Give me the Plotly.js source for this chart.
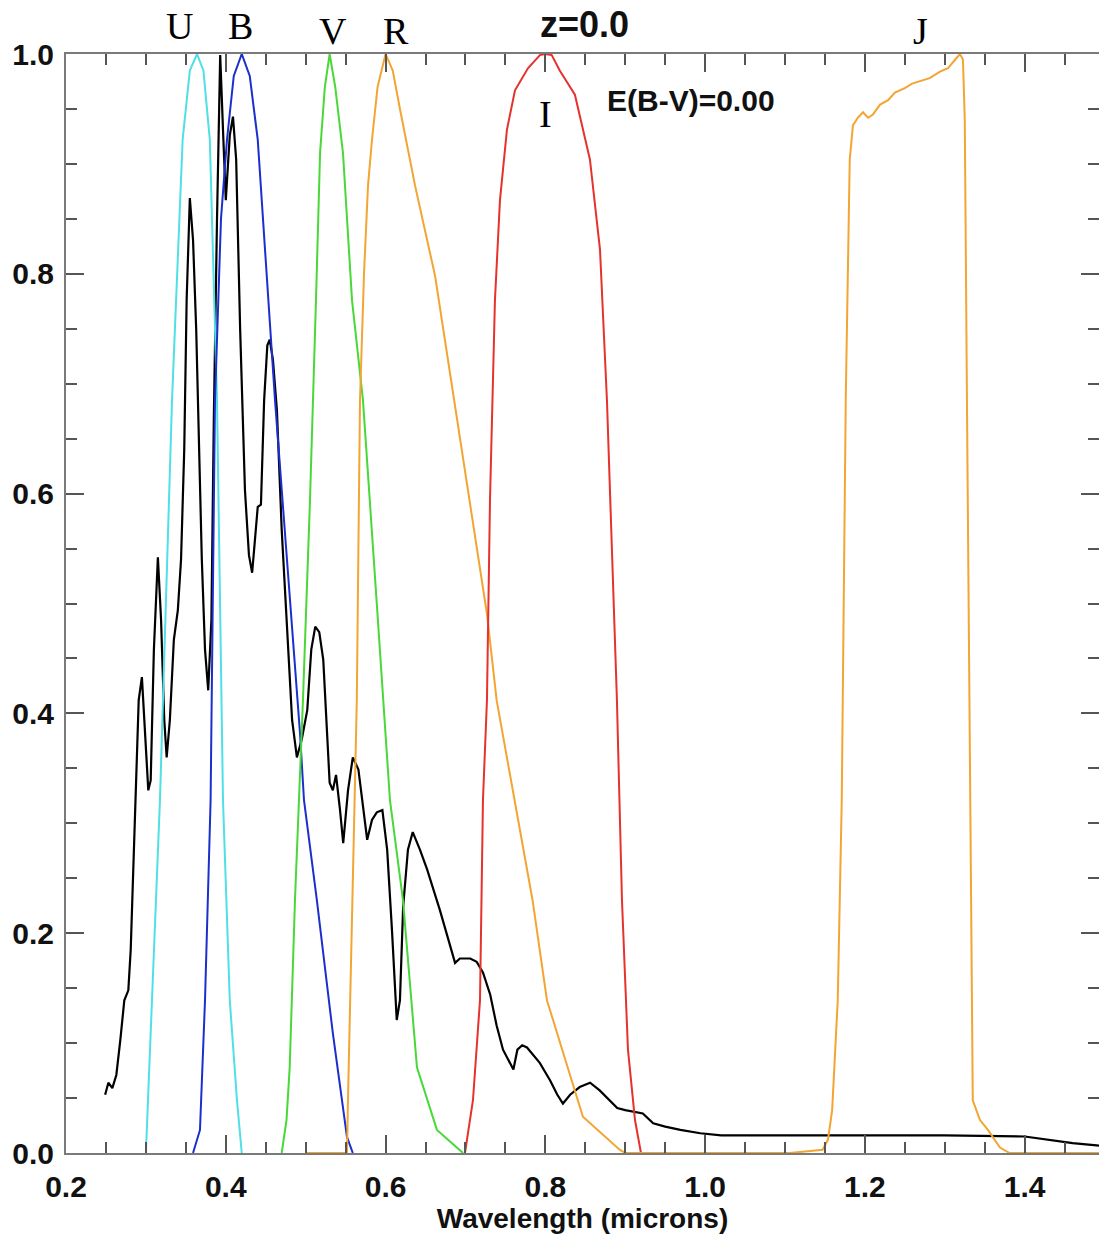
<!DOCTYPE html>
<html>
<head>
<meta charset="utf-8">
<script src="https://cdn.plot.ly/plotly-3.0.1.min.js"></script>
<style>
  html, body { margin: 0; padding: 0; background: #ffffff; }
  #chart { width: 1099px; height: 1235px; }
</style>
</head>
<body>
<div id="chart"></div>
<script>
// Galaxy spectrum (normalised flux) vs wavelength (microns)
const specWave = [0.249,0.253,0.258,0.263,0.268,0.273,0.278,0.281,0.285,0.289,
  0.291,0.295,0.299,0.303,0.306,0.310,0.315,0.319,0.323,0.326,
  0.330,0.335,0.340,0.344,0.348,0.351,0.355,0.359,0.363,0.367,
  0.370,0.374,0.378,0.382,0.385,0.389,0.393,0.397,0.400,0.405,
  0.409,0.413,0.418,0.424,0.429,0.433,0.437,0.440,0.444,0.448,
  0.452,0.455,0.459,0.464,0.470,0.477,0.483,0.489,0.495,0.502,
  0.507,0.512,0.517,0.522,0.527,0.530,0.534,0.538,0.543,0.547,
  0.553,0.559,0.566,0.572,0.577,0.583,0.589,0.596,0.602,0.608,
  0.614,0.618,0.622,0.628,0.634,0.643,0.652,0.668,0.681,0.687,
  0.693,0.706,0.714,0.722,0.731,0.739,0.747,0.753,0.760,0.765,
  0.771,0.777,0.785,0.793,0.806,0.815,0.822,0.831,0.843,0.856,
  0.868,0.881,0.890,0.900,0.912,0.922,0.935,0.950,0.969,0.994,
  1.02,1.1,1.2,1.3,1.4,1.43,1.46,1.49,1.5];
const specFlux = [0.053,0.064,0.059,0.071,0.103,0.139,0.148,0.185,0.276,0.358,
  0.412,0.433,0.376,0.330,0.339,0.458,0.542,0.485,0.394,0.360,
  0.394,0.467,0.494,0.540,0.640,0.776,0.869,0.831,0.749,0.640,
  0.540,0.458,0.421,0.485,0.667,0.849,0.999,0.922,0.867,0.926,
  0.943,0.904,0.749,0.603,0.544,0.528,0.567,0.588,0.590,0.685,
  0.735,0.740,0.722,0.676,0.567,0.473,0.394,0.360,0.376,0.403,
  0.458,0.479,0.474,0.449,0.385,0.337,0.330,0.344,0.312,0.282,
  0.330,0.360,0.349,0.312,0.285,0.303,0.310,0.312,0.276,0.203,
  0.121,0.139,0.224,0.276,0.292,0.276,0.258,0.221,0.189,0.173,
  0.177,0.177,0.174,0.164,0.144,0.116,0.094,0.085,0.076,0.094,
  0.098,0.096,0.089,0.082,0.066,0.053,0.045,0.053,0.060,0.064,
  0.057,0.048,0.041,0.039,0.037,0.036,0.027,0.024,0.021,0.018,
  0.016,0.016,0.016,0.016,0.015,0.012,0.009,0.007,0.006];

// Filter transmission curves
const uWave = [0.300,0.3026,0.3076,0.3176,0.3327,0.346,0.355,0.364,0.372,0.380,0.389,0.3965,0.405,0.414,0.420];
const uTrans = [0,0.048,0.139,0.321,0.685,0.922,0.985,1.0,0.985,0.922,0.685,0.321,0.139,0.048,0];

const bWave = [0.359,0.3677,0.374,0.381,0.3865,0.394,0.4015,0.410,0.420,0.430,0.440,0.450,0.4616,0.4929,0.4979,0.514,0.534,0.5517,0.559];
const bTrans = [0,0.021,0.139,0.321,0.685,0.85,0.922,0.98,1.0,0.98,0.922,0.81,0.685,0.382,0.321,0.230,0.109,0.0146,0];

const vWave = [0.470,0.476,0.480,0.4866,0.4966,0.5054,0.5129,0.518,0.524,0.530,0.537,0.5467,0.558,0.5717,0.589,0.6055,0.6218,0.6393,0.6643,0.697];
const vTrans = [0,0.03,0.078,0.230,0.412,0.594,0.776,0.91,0.97,1.0,0.97,0.91,0.776,0.685,0.5,0.321,0.230,0.078,0.021,0];

const rWave = [0.500,0.550,0.5517,0.553,0.556,0.560,0.564,0.566,0.568,0.573,0.578,0.583,0.590,0.600,0.609,0.618,0.637,0.662,0.695,0.727,0.739,0.784,0.802,0.847,0.893,0.900];
const rTrans = [0,0,0,0.05,0.15,0.28,0.412,0.55,0.685,0.8,0.88,0.922,0.97,1.0,0.985,0.95,0.88,0.798,0.64,0.49,0.412,0.23,0.139,0.033,0.003,0];

const iWave = [0.6994,0.7019,0.7094,0.7182,0.7219,0.7269,0.7307,0.7369,0.7432,0.7519,0.7620,0.7782,0.7932,0.7995,0.808,0.818,0.837,0.8558,0.8684,0.8771,0.8834,0.8896,0.8959,0.9034,0.9122,0.9197];
const iTrans = [0,0.012,0.048,0.139,0.321,0.412,0.594,0.776,0.867,0.931,0.967,0.987,0.999,1.0,0.999,0.985,0.963,0.904,0.822,0.685,0.549,0.412,0.230,0.094,0.030,0];

const jWave = [0.900,1.106,1.147,1.1537,1.159,1.166,1.171,1.176,1.181,1.185,1.191,1.1975,1.204,1.21,1.219,1.229,1.2375,1.25,1.259,1.269,1.281,1.294,1.304,1.313,1.319,1.3227,1.325,1.3277,1.3315,1.335,1.344,1.354,1.369,1.381,1.5];
const jTrans = [0,0,0.003,0.012,0.039,0.139,0.321,0.685,0.904,0.935,0.942,0.947,0.942,0.945,0.954,0.958,0.965,0.969,0.973,0.975,0.978,0.984,0.987,0.995,1.0,0.995,0.94,0.685,0.321,0.048,0.030,0.021,0.005,0,0];

// Labels
const filterNames = ['U','B','V','R','I','J'];
const filterLabelX = [0.342,0.418,0.534,0.613,0.8006,1.269];
const filterLabelY = [1.0255,1.0255,1.021,1.021,0.9454,1.021];
const titleText = 'z=0.0';
const ebvText = 'E(B-V)=0.00';
const xTitle = 'Wavelength (microns)';

const colors = {spec:'#000000', U:'#4fdfe6', B:'#1b2fcc', V:'#48d838', R:'#f2a533', I:'#e5322d', J:'#f2a533'};

function line(x, y, color, w) {
  return {x: x, y: y, type: 'scatter', mode: 'lines', line: {color: color, width: w || 2}, hoverinfo: 'skip'};
}

const traces = [
  line(specWave, specFlux, colors.spec, 2.2),
  line(uWave, uTrans, colors.U),
  line(bWave, bTrans, colors.B),
  line(vWave, vTrans, colors.V),
  line(rWave, rTrans, colors.R),
  line(iWave, iTrans, colors.I),
  line(jWave, jTrans, colors.J)
];

const serif = 'Liberation Serif, Times New Roman, serif';
const sans = 'Liberation Sans, Arial, Helvetica, sans-serif';

const annotations = filterNames.map((n, k) => ({
  text: n, x: filterLabelX[k], y: filterLabelY[k], xref: 'x', yref: 'paper',
  xanchor: 'center', yanchor: 'middle', showarrow: false,
  font: {family: serif, size: 38, color: '#000'}
}));
annotations.push({text: '<b>' + titleText + '</b>', x: 0.8496, y: 1.0264, xref: 'x', yref: 'paper',
  xanchor: 'center', yanchor: 'middle', showarrow: false, font: {family: sans, size: 36, color: '#111'}});
annotations.push({text: '<b>' + ebvText + '</b>', x: 0.982, y: 0.958, xref: 'x', yref: 'paper',
  xanchor: 'center', yanchor: 'middle', showarrow: false, font: {family: sans, size: 30, color: '#111'}});

const axisCommon = {
  showgrid: false, zeroline: false, showline: true, linecolor: '#7a7a7a', linewidth: 2,
  mirror: 'ticks', ticks: 'inside', ticklen: 18, tickwidth: 2, tickcolor: '#555',
  tickformat: '.1f', tickfont: {family: sans, size: 30, color: '#111', weight: 'bold'},
  minor: {dtick: 0.05, ticks: 'inside', ticklen: 11, tickwidth: 2, tickcolor: '#555', showgrid: false}
};

const layout = {
  width: 1099, height: 1235,
  margin: {l: 66, r: 0, t: 54, b: 82},
  paper_bgcolor: '#ffffff', plot_bgcolor: '#ffffff',
  showlegend: false,
  xaxis: Object.assign({}, axisCommon, {
    range: [0.2, 1.493], tick0: 0.2, dtick: 0.2, ticklabelstandoff: 6,
    title: {text: '<b>' + xTitle + '</b>', font: {family: sans, size: 28, color: '#111'}, standoff: 4}
  }),
  yaxis: Object.assign({}, axisCommon, {
    range: [0, 1], tick0: 0, dtick: 0.2, ticklabelstandoff: 4
  }),
  annotations: annotations
};

Plotly.newPlot('chart', traces, layout, {displayModeBar: false, staticPlot: true});
</script>
</body>
</html>
